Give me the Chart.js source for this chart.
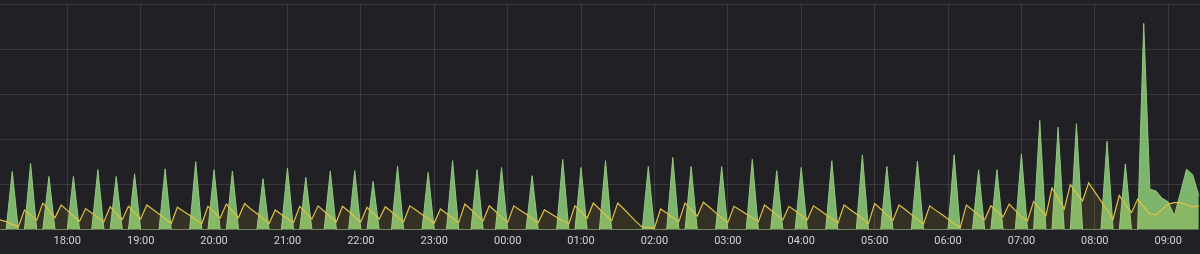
<!DOCTYPE html>
<html>
<head>
<meta charset="utf-8">
<script src="https://cdn.jsdelivr.net/npm/chart.js@4.4.1/dist/chart.umd.min.js"></script>
<style>
  html, body { margin: 0; padding: 0; background: #212125; }
  #wrap { width: 1200px; height: 254px; }
</style>
</head>
<body>
<div id="wrap"><canvas id="chart" width="1200" height="254"></canvas></div>
<script>
// first sample is 17:05, one sample every 5 minutes
const startTime = '17:05';
const stepMinutes = 5;

const hourLabels = ['18:00', '19:00', '20:00', '21:00', '22:00', '23:00', '00:00', '01:00',
                    '02:00', '03:00', '04:00', '05:00', '06:00', '07:00', '08:00', '09:00'];

// spiky series (green)
const greenSeries = [
  0, 0, 1.29, 0, 0, 1.47, 0, 0, 1.18, 0, 0, 0,
  1.18, 0, 0, 0, 1.33, 0, 0, 1.18, 0, 0, 1.24, 0,
  0, 0, 0, 1.35, 0, 0, 0, 0, 1.51, 0, 0, 1.33,
  0, 0, 1.30, 0, 0, 0, 0, 1.13, 0, 0, 0, 1.37,
  0, 0, 1.16, 0, 0, 0, 1.30, 0, 0, 0, 1.31, 0,
  0, 1.07, 0, 0, 0, 1.41, 0, 0, 0, 0, 1.27, 0,
  0, 0, 1.53, 0, 0, 0, 1.33, 0, 0, 0, 1.38, 0,
  0, 0, 0, 1.20, 0, 0, 0, 0, 1.56, 0, 0, 1.38,
  0, 0, 0, 1.53, 0, 0, 0, 0, 0, 0, 1.40, 0,
  0, 0, 1.60, 0, 0, 1.40, 0, 0, 0, 0, 1.40, 0,
  0, 0, 0, 1.56, 0, 0, 0, 1.31, 0, 0, 0, 1.38,
  0, 0, 0, 0, 1.53, 0, 0, 0, 0, 1.66, 0, 0,
  0, 1.40, 0, 0, 0, 0, 1.52, 0, 0, 0, 0, 0,
  1.66, 0, 0, 0, 1.33, 0, 0, 1.33, 0, 0, 0, 1.68,
  0, 0, 2.42, 0, 0, 2.27, 0, 0, 2.35, 0, 0, 0,
  0, 1.96, 0, 0, 1.46, 0, 0, 4.57, 0.90, 0.86, 0.70, 0.62,
  0.31, 0.82, 1.34, 1.22, 0.76
];

// sawtooth series (yellow)
const yellowSeries = [
  0.22, 0.18, 0.12, 0.07, 0.44, 0.33, 0.21, 0.59, 0.43, 0.27, 0.55, 0.43,
  0.31, 0.19, 0.47, 0.37, 0.27, 0.18, 0.51, 0.37, 0.23, 0.52, 0.38, 0.24,
  0.55, 0.45, 0.35, 0.25, 0.14, 0.50, 0.41, 0.32, 0.23, 0.14, 0.52, 0.39,
  0.26, 0.57, 0.42, 0.27, 0.58, 0.46, 0.36, 0.25, 0.14, 0.44, 0.34, 0.25,
  0.16, 0.52, 0.38, 0.24, 0.53, 0.41, 0.29, 0.18, 0.52, 0.41, 0.29, 0.18,
  0.50, 0.37, 0.24, 0.51, 0.40, 0.29, 0.18, 0.53, 0.44, 0.34, 0.25, 0.15,
  0.46, 0.36, 0.26, 0.16, 0.57, 0.45, 0.32, 0.20, 0.53, 0.41, 0.28, 0.16,
  0.53, 0.44, 0.35, 0.25, 0.16, 0.44, 0.36, 0.28, 0.20, 0.13, 0.53, 0.40,
  0.26, 0.59, 0.46, 0.33, 0.20, 0.59, 0.46, 0.32, 0.18, 0.06, 0.05, 0.04,
  0.46, 0.37, 0.27, 0.18, 0.59, 0.44, 0.30, 0.61, 0.50, 0.38, 0.27, 0.16,
  0.52, 0.44, 0.35, 0.27, 0.18, 0.55, 0.44, 0.33, 0.22, 0.52, 0.42, 0.32,
  0.22, 0.53, 0.44, 0.34, 0.25, 0.15, 0.55, 0.45, 0.35, 0.25, 0.14, 0.58,
  0.46, 0.33, 0.21, 0.55, 0.45, 0.34, 0.24, 0.13, 0.53, 0.43, 0.34, 0.24,
  0.14, 0.05, 0.55, 0.44, 0.33, 0.22, 0.53, 0.41, 0.29, 0.57, 0.43, 0.29,
  0.20, 0.63, 0.47, 0.31, 0.93, 0.70, 0.46, 1.00, 0.82, 0.64, 1.04, 0.84,
  0.64, 0.44, 0.24, 0.76, 0.57, 0.38, 0.68, 0.52, 0.35, 0.33, 0.45, 0.57,
  0.60, 0.60, 0.56, 0.51, 0.53
];

function toMinutes(label) {
  const [h, m] = label.split(':').map(Number);
  return h * 60 + m;
}

const startMin = toMinutes(startTime);
// times past midnight belong to the next day
function axisMinutes(label) {
  const m = toMinutes(label);
  return m < startMin ? m + 1440 : m;
}

const toPoints = arr => arr.map((v, i) => ({ x: startMin + i * stepMinutes, y: v }));
const hourTicks = hourLabels.map(axisMinutes);

const gridColor = 'rgba(255,255,255,0.11)';

new Chart(document.getElementById('chart'), {
  type: 'line',
  data: {
    datasets: [
      {
        label: 'yellow',
        data: toPoints(yellowSeries),
        borderColor: '#e0c244',
        borderWidth: 1.2,
        backgroundColor: 'rgba(250,222,42,0.09)',
        fill: 'origin',
        pointRadius: 0,
        tension: 0
      },
      {
        label: 'green',
        data: toPoints(greenSeries),
        borderColor: '#93c784',
        borderWidth: 1,
        backgroundColor: 'rgba(134,194,114,0.92)',
        fill: 'origin',
        pointRadius: 0,
        tension: 0
      }
    ]
  },
  options: {
    responsive: false,
    animation: false,
    devicePixelRatio: 1,
    layout: { padding: { top: 4, bottom: 1, left: 0, right: 0 } },
    plugins: { legend: { display: false }, tooltip: { enabled: false } },
    scales: {
      x: {
        type: 'linear',
        min: startMin,
        max: startMin + (greenSeries.length - 1) * stepMinutes + 1,
        afterBuildTicks: scale => { scale.ticks = hourTicks.map(v => ({ value: v })); },
        ticks: {
          autoSkip: false,
          maxRotation: 0,
          padding: 5,
          color: '#d2d2d6',
          font: { family: 'Roboto', size: 11 },
          callback: (value, index) => hourLabels[index]
        },
        grid: { color: gridColor, drawTicks: false },
        border: { display: false }
      },
      y: {
        min: 0,
        max: 5,
        ticks: { display: false, stepSize: 1 },
        grid: { color: gridColor, drawTicks: false },
        border: { display: false }
      }
    }
  }
});
</script>
</body>
</html>
